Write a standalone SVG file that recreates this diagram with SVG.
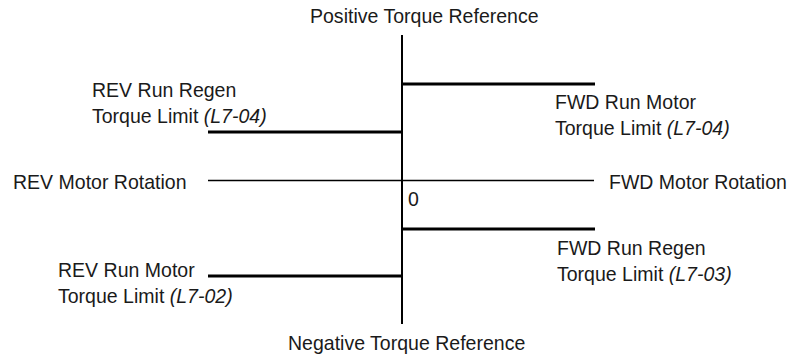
<svg xmlns="http://www.w3.org/2000/svg" width="788" height="360" viewBox="0 0 788 360">
<style>
text{font-family:"Liberation Sans",Arial,sans-serif;font-size:21px;fill:#1a1a1a}
.i{font-style:italic}
.ax{stroke:#000;stroke-width:1.5;fill:none}
.vx{stroke:#000;stroke-width:2;fill:none}
.lim{stroke:#000;stroke-width:3;fill:none}
</style>
<rect width="788" height="360" fill="#fff"/>
<g id="connectors">
<line class="vx" x1="402" y1="35" x2="402" y2="324"/>
<line class="ax" x1="208" y1="180.5" x2="594" y2="180.5"/>
<line class="lim" x1="402" y1="84" x2="595" y2="84"/>
<line class="lim" x1="208" y1="132" x2="402" y2="132"/>
<line class="lim" x1="402" y1="229" x2="595" y2="229"/>
<line class="lim" x1="208" y1="276" x2="402" y2="276"/>
</g>
<g id="pos-ref"><text transform="translate(310 23) scale(0.93 1)">Positive Torque Reference</text></g>
<g id="neg-ref"><text transform="translate(288 350) scale(0.93 1)">Negative Torque Reference</text></g>
<g id="rev-rot"><text transform="translate(13 189) scale(0.93 1)">REV Motor Rotation</text></g>
<g id="fwd-rot"><text transform="translate(609 189) scale(0.93 1)">FWD Motor Rotation</text></g>
<g id="zero"><text transform="translate(408 206) scale(0.93 1)">0</text></g>
<g id="rev-regen">
<text transform="translate(92 97) scale(0.93 1)">REV Run Regen</text>
<text transform="translate(92 123) scale(0.93 1)">Torque Limit <tspan class="i">(L7-04)</tspan></text>
</g>
<g id="fwd-motor">
<text transform="translate(555 109) scale(0.93 1)">FWD Run Motor</text>
<text transform="translate(555 135) scale(0.93 1)">Torque Limit <tspan class="i">(L7-04)</tspan></text>
</g>
<g id="fwd-regen">
<text transform="translate(557 255) scale(0.93 1)">FWD Run Regen</text>
<text transform="translate(557 281) scale(0.93 1)">Torque Limit <tspan class="i">(L7-03)</tspan></text>
</g>
<g id="rev-motor">
<text transform="translate(58 277) scale(0.93 1)">REV Run Motor</text>
<text transform="translate(58 303) scale(0.93 1)">Torque Limit <tspan class="i">(L7-02)</tspan></text>
</g>
</svg>
